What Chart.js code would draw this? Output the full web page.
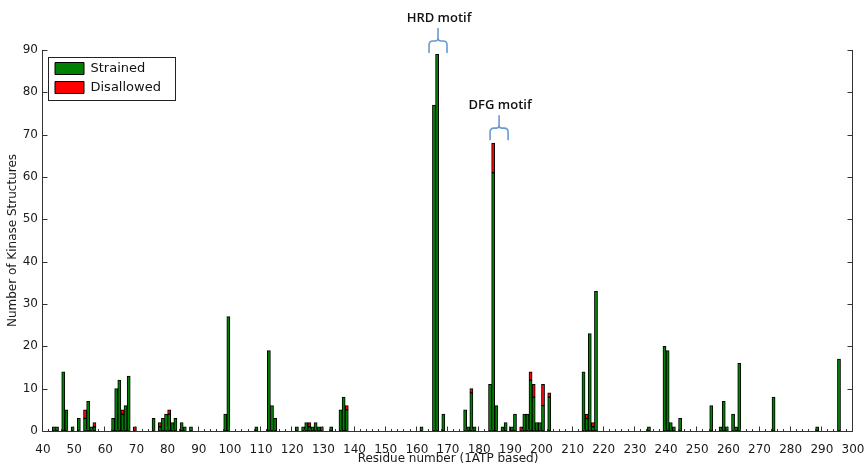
<!DOCTYPE html>
<html>
<head>
<meta charset="utf-8">
<script src="https://cdn.jsdelivr.net/npm/chart.js@4.4.1/dist/chart.umd.min.js"></script>
<style>
html,body{margin:0;padding:0;background:#ffffff;}
#wrap{width:867px;height:466px;position:relative;}
</style>
</head>
<body>
<div id="wrap"><canvas id="c" width="867" height="466"></canvas></div>
<script>
// ---- data ----
const residues = [
  43,44,46,47,49,51,53,54,55,56,
  62,63,64,65,66,67,69,75,77,78,
  79,80,81,82,84,85,87,98,99,108,
  112,113,114,121,123,124,125,126,127,128,
  129,132,135,136,137,161,165,166,168,175,
  176,177,178,183,184,185,187,188,190,191,
  193,194,195,196,197,198,199,200,202,213,
  214,215,216,217,234,239,240,241,242,244,
  254,257,258,259,261,262,263,274,288,295
];
const strained = [
  1,1,14,5,1,3,3,7,1,1,
  3,10,12,4,6,13,0,3,1,3,
  4,4,2,3,2,1,1,4,27,1,
  19,6,3,1,1,2,1,1,2,1,
  0,1,5,8,5,1,77,89,4,5,
  1,9,1,11,61,6,1,2,1,4,
  0,4,4,12,8,2,2,6,8,14,
  3,23,1,33,1,20,19,2,1,3,
  6,1,7,1,4,1,16,8,1,17
];
const disallowed = [
  0,0,0,0,0,0,2,0,0,1,
  0,0,0,1,0,0,1,0,1,0,
  0,1,0,0,0,0,0,0,0,0,
  0,0,0,0,0,0,1,0,0,0,
  1,0,0,0,1,0,0,0,0,0,
  0,1,0,0,7,0,0,0,0,0,
  1,0,0,2,3,0,0,5,1,0,
  1,0,1,0,0,0,0,0,0,0,
  0,0,0,0,0,0,0,0,0,0
];
const seriesNames = ['Strained', 'Disallowed'];
const xTitle = 'Residue number (1ATP based)';
const yTitle = 'Number of Kinase Structures';
const motifLabels = ['HRD motif', 'DFG motif'];
const motifResidue = [166.8, 186.4];   // centre of bracket (residue units)
const motifValue = [89.3, 68.7];       // bracket foot (count units)

// ---- chart ----
Chart.defaults.font.family = '"DejaVu Sans", sans-serif';
Chart.defaults.color = '#1a1a1a';

const toPoints = arr => residues.map((r, i) => ({x: r, y: arr[i] > 0 ? arr[i] : null}));

const framePlugin = {
  id: 'frame',
  beforeDraw(chart) {
    const lg = chart.legend;
    if (lg) { lg.left = chart.chartArea.left + 6; lg.top = chart.chartArea.top + 6; }
  },
  beforeDatasetsDraw(chart) {
    const xs = chart.scales.x;
    const half = (xs.getPixelForValue(41) - xs.getPixelForValue(40)) / 2;
    chart.ctx.save();
    chart.ctx.translate(half, 0);
  },
  afterDatasetsDraw(chart) {
    const ctx = chart.ctx;
    ctx.restore();
    const {left, right, top, bottom} = chart.chartArea;
    const xs = chart.scales.x, ys = chart.scales.y;
    ctx.save();
    ctx.strokeStyle = '#333';
    ctx.lineWidth = 1;
    ctx.beginPath();
    const L = Math.round(left) - 0.5, R = Math.round(right) - 0.5, B = Math.round(bottom) + 0.5;
    ctx.moveTo(L, top); ctx.lineTo(L, B);
    ctx.lineTo(R, B); ctx.lineTo(R, top);
    for (let v = 0; v <= 90; v += 10) {
      const y = Math.round(ys.getPixelForValue(v)) + 0.5;
      ctx.moveTo(L, y); ctx.lineTo(L + 5, y);
      ctx.moveTo(R, y); ctx.lineTo(R - 5, y);
    }
    for (let v = 40; v <= 300; v += 2) {
      const x = Math.round(xs.getPixelForValue(v)) - 0.5;
      const len = (v % 10 === 0) ? 5 : 2.5;
      ctx.moveTo(x, B); ctx.lineTo(x, B - len);
    }
    ctx.stroke();
    ctx.restore();
  },
  afterDraw(chart) {
    const ctx = chart.ctx;
    const xs = chart.scales.x, ys = chart.scales.y;
    // legend frame
    const lg = chart.legend;
    if (lg) {
      ctx.save();
      ctx.font = '13px "DejaVu Sans"';
      let w = 0;
      seriesNames.forEach(s => { w = Math.max(w, ctx.measureText(s).width); });
      const bx = lg.left + 6 - 7, by = lg.top + 6 - 5;
      const bw = 7 + 29 + 6.5 + w + 14, bh = 43;
      ctx.strokeStyle = '#222';
      ctx.lineWidth = 1;
      ctx.strokeRect(Math.round(bx) + 0.5, Math.round(by) + 0.5, Math.round(bw), bh);
      ctx.restore();
    }
    // motif annotations
    ctx.save();
    motifLabels.forEach((lab, i) => {
      const cx = xs.getPixelForValue(motifResidue[i]);
      const foot = ys.getPixelForValue(motifValue[i]);
      const hw = 9, horiz = foot - 12, stem = foot - 25, r = 4;
      ctx.strokeStyle = '#6a9bd0';
      ctx.lineWidth = 1.6;
      ctx.beginPath();
      ctx.moveTo(cx - hw, foot);
      ctx.lineTo(cx - hw, horiz + r);
      ctx.quadraticCurveTo(cx - hw, horiz, cx - hw + r, horiz);
      ctx.lineTo(cx - 3, horiz);
      ctx.quadraticCurveTo(cx, horiz, cx, horiz - 3);
      ctx.lineTo(cx, stem);
      ctx.moveTo(cx + hw, foot);
      ctx.lineTo(cx + hw, horiz + r);
      ctx.quadraticCurveTo(cx + hw, horiz, cx + hw - r, horiz);
      ctx.lineTo(cx + 3, horiz);
      ctx.quadraticCurveTo(cx, horiz, cx, horiz - 3);
      ctx.stroke();
      ctx.fillStyle = '#111';
      ctx.font = '600 13px "Open Sans", sans-serif';
      ctx.textAlign = 'center';
      ctx.textBaseline = 'middle';
      ctx.fillText(lab, cx + 1, foot - 35);
    });
    ctx.restore();
  }
};

new Chart(document.getElementById('c').getContext('2d'), {
  type: 'bar',
  data: {
    datasets: [
      {
        label: seriesNames[0],
        data: toPoints(strained),
        backgroundColor: '#008000',
        borderColor: '#000000',
        borderWidth: 1,
        borderSkipped: false,
        barPercentage: 1,
        categoryPercentage: 1
      },
      {
        label: seriesNames[1],
        data: toPoints(disallowed),
        backgroundColor: '#ff0000',
        borderColor: '#000000',
        borderWidth: 1,
        borderSkipped: false,
        barPercentage: 1,
        categoryPercentage: 1
      }
    ]
  },
  options: {
    responsive: false,
    animation: false,
    devicePixelRatio: 1,
    layout: {padding: {top: 50, right: 14, left: 0, bottom: 0}},
    plugins: {
      legend: {
        position: 'chartArea',
        align: 'start',
        labels: {boxWidth: 29, boxHeight: 12, padding: 6, color: '#111', font: {size: 13}}
      },
      tooltip: {enabled: false}
    },
    scales: {
      x: {
        type: 'linear',
        stacked: true,
        offset: false,
        min: 40, max: 300,
        grid: {display: false, drawTicks: false, offset: false},
        border: {display: false},
        ticks: {stepSize: 10, autoSkip: false, maxRotation: 0, padding: 12, font: {size: 12}, color: '#1a1a1a'},
        title: {display: true, text: xTitle, font: {size: 12}, padding: {top: 0, bottom: 0}, color: '#1a1a1a'},
        afterFit(s) { s.height = 35; s.paddingRight = 0; s.paddingLeft = 0; }
      },
      y: {
        stacked: true,
        min: 0, max: 90,
        grid: {display: false, drawTicks: false},
        border: {display: false},
        ticks: {stepSize: 10, padding: 5, font: {size: 12}, color: '#1a1a1a'},
        title: {display: true, text: yTitle, font: {size: 12}, padding: {top: 6, bottom: 0}, color: '#1a1a1a'},
        afterFit(s) { s.width = 43; }
      }
    }
  },
  plugins: [framePlugin]
});
</script>
</body>
</html>
